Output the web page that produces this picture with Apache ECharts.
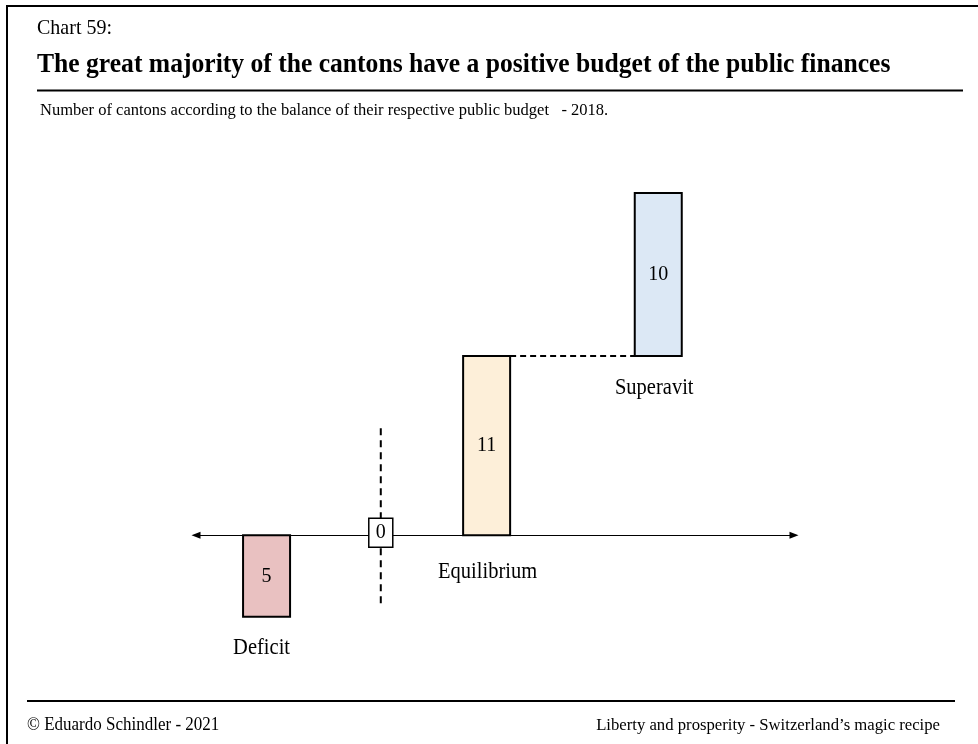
<!DOCTYPE html>
<html>
<head>
<meta charset="utf-8">
<title>Chart 59</title>
<script src="https://cdn.jsdelivr.net/npm/echarts@6/dist/echarts.min.js"></script>
<style>
  html, body { margin: 0; padding: 0; background: #ffffff; }
  #chart { width: 978px; height: 744px; }
</style>
</head>
<body>
<div id="chart"></div>
<script>
// Number of cantons by balance of their public budget, 2018
const categories = ['Deficit', 'Equilibrium', 'Superavit'];
const cantonCounts = [5, 11, 10];
// Where each bar starts: superavit sits on top of equilibrium
const barBases = [0, 0, 11];
// Deficit hangs below the zero line, the others rise above it
const barDirections = [-1, 1, 1];
const zeroLabel = '0';

const FONT = '"Liberation Serif", "Times New Roman", Times, serif';
const TEXT_STRETCH = 1.1;         // glyphs drawn slightly taller than wide
const BAR_W = 47;                 // bar body width in px
const SLOT_X = [11.8, 48.6, 77.3]; // horizontal slot of each bar on the 0-100 axis
const ZERO_SLOT = 30.9;
const NAME_DX = [-5, 1, -4];      // category name offset from bar centre
const NAME_DY = [31, 37, 32];     // category name offset below bar bottom
const BAR_COLORS = ['#e9c1c1', '#fdefd9', '#dce8f5'];

const barData = categories.map((c, i) => [
  SLOT_X[i],
  barBases[i],
  barBases[i] + barDirections[i] * cantonCounts[i],
  cantonCounts[i]
]);

function label(text, x, y, size, opts) {
  opts = opts || {};
  return {
    type: 'text',
    x: x, y: y,
    scaleX: opts.scaleX || 1,
    scaleY: opts.scaleY || TEXT_STRETCH,
    z2: 10,
    style: {
      text: text,
      x: 0, y: 0,
      font: (opts.bold ? 'bold ' : '') + size + 'px ' + FONT,
      fill: '#000',
      align: opts.align || 'center',
      textAlign: opts.align || 'center',
      verticalAlign: 'middle',
      textVerticalAlign: 'middle'
    }
  };
}

function renderBar(params, api) {
  const i = params.dataIndex;
  const pBase = api.coord([api.value(0), api.value(1)]);
  const pEnd = api.coord([api.value(0), api.value(2)]);
  const top = Math.min(pBase[1], pEnd[1]);
  const bottom = Math.max(pBase[1], pEnd[1]);
  const cx = pBase[0];
  return {
    type: 'group',
    children: [
      {
        type: 'rect',
        shape: { x: cx - BAR_W / 2, y: top, width: BAR_W, height: bottom - top },
        style: { fill: BAR_COLORS[i], stroke: '#000', lineWidth: 2 }
      },
      label(String(api.value(3)), cx, (top + bottom) / 2, 20),
      label(categories[i], cx + NAME_DX[i], bottom + NAME_DY[i], 20.5)
    ]
  };
}

// Dashed link from the top of equilibrium to the foot of superavit
function renderLink(params, api) {
  const a = api.coord([api.value(0), api.value(2)]);
  const b = api.coord([api.value(1), api.value(2)]);
  return {
    type: 'line',
    shape: { x1: a[0] + BAR_W / 2, y1: a[1], x2: b[0] - BAR_W / 2, y2: b[1] },
    style: { stroke: '#000', lineWidth: 2, lineDash: [6, 4] }
  };
}

// Zero marker: boxed "0" crossed by a dashed vertical line
function renderZero(params, api) {
  const p = api.coord([api.value(0), api.value(1)]);
  return {
    type: 'group',
    children: [
      {
        type: 'line',
        shape: { x1: p[0], y1: p[1] - 107, x2: p[0], y2: p[1] + 72 },
        style: { stroke: '#000', lineWidth: 2, lineDash: [7, 5] }
      },
      {
        type: 'rect',
        shape: { x: p[0] - 12, y: p[1] - 17, width: 24, height: 29 },
        style: { fill: '#fff', stroke: '#000', lineWidth: 1.5 }
      },
      label(zeroLabel, p[0], p[1] - 2.5, 20)
    ]
  };
}

const chart = echarts.init(document.getElementById('chart'), null, { renderer: 'canvas' });

chart.setOption({
  animation: false,
  backgroundColor: '#ffffff',
  grid: { left: 196, right: 184, top: 144, bottom: 78.4, containLabel: false },
  xAxis: {
    type: 'value', min: 0, max: 100,
    axisLine: {
      show: true, onZero: true,
      symbol: ['triangle', 'triangle'],
      symbolSize: [7, 9],
      lineStyle: { color: '#000', width: 1 }
    },
    axisTick: { show: false }, axisLabel: { show: false }, splitLine: { show: false }
  },
  yAxis: {
    type: 'value', min: -8, max: 24,
    axisLine: { show: false }, axisTick: { show: false },
    axisLabel: { show: false }, splitLine: { show: false }
  },
  series: [
    {
      type: 'custom', name: 'link', clip: false, z: 3,
      renderItem: renderLink,
      data: [[SLOT_X[1], SLOT_X[2], barBases[2]]]
    },
    {
      type: 'custom', name: 'cantons', clip: false, z: 4,
      renderItem: renderBar,
      data: barData
    },
    {
      type: 'custom', name: 'zero', clip: false, z: 5,
      renderItem: renderZero,
      data: [[ZERO_SLOT, 0]]
    }
  ],
  graphic: [
    { type: 'rect', shape: { x: 7, y: 6, width: 1000, height: 800 },
      style: { fill: 'none', stroke: '#000', lineWidth: 2 } },
    label('Chart 59:', 37, 28.5, 20, { align: 'left' }),
    label('The great majority of the cantons have a positive budget of the public finances', 37, 65.5, 25.6, { align: 'left', bold: true, scaleY: 1.04 }),
    { type: 'line', shape: { x1: 37, y1: 90.5, x2: 963, y2: 90.5 },
      style: { stroke: '#000', lineWidth: 2 } },
    label('Number of cantons according to the balance of their respective public budget   - 2018.', 40, 111, 16.5, { align: 'left', scaleY: 1.0 }),
    { type: 'line', shape: { x1: 27, y1: 701, x2: 955, y2: 701 },
      style: { stroke: '#000', lineWidth: 2 } },
    label('\u00A9 Eduardo Schindler - 2021', 27, 725, 17, { align: 'left', scaleY: 1.05 }),
    label('Liberty and prosperity - Switzerland\u2019s magic recipe', 940, 725, 16.7, { align: 'right', scaleY: 1.05 })
  ]
});
</script>
</body>
</html>
